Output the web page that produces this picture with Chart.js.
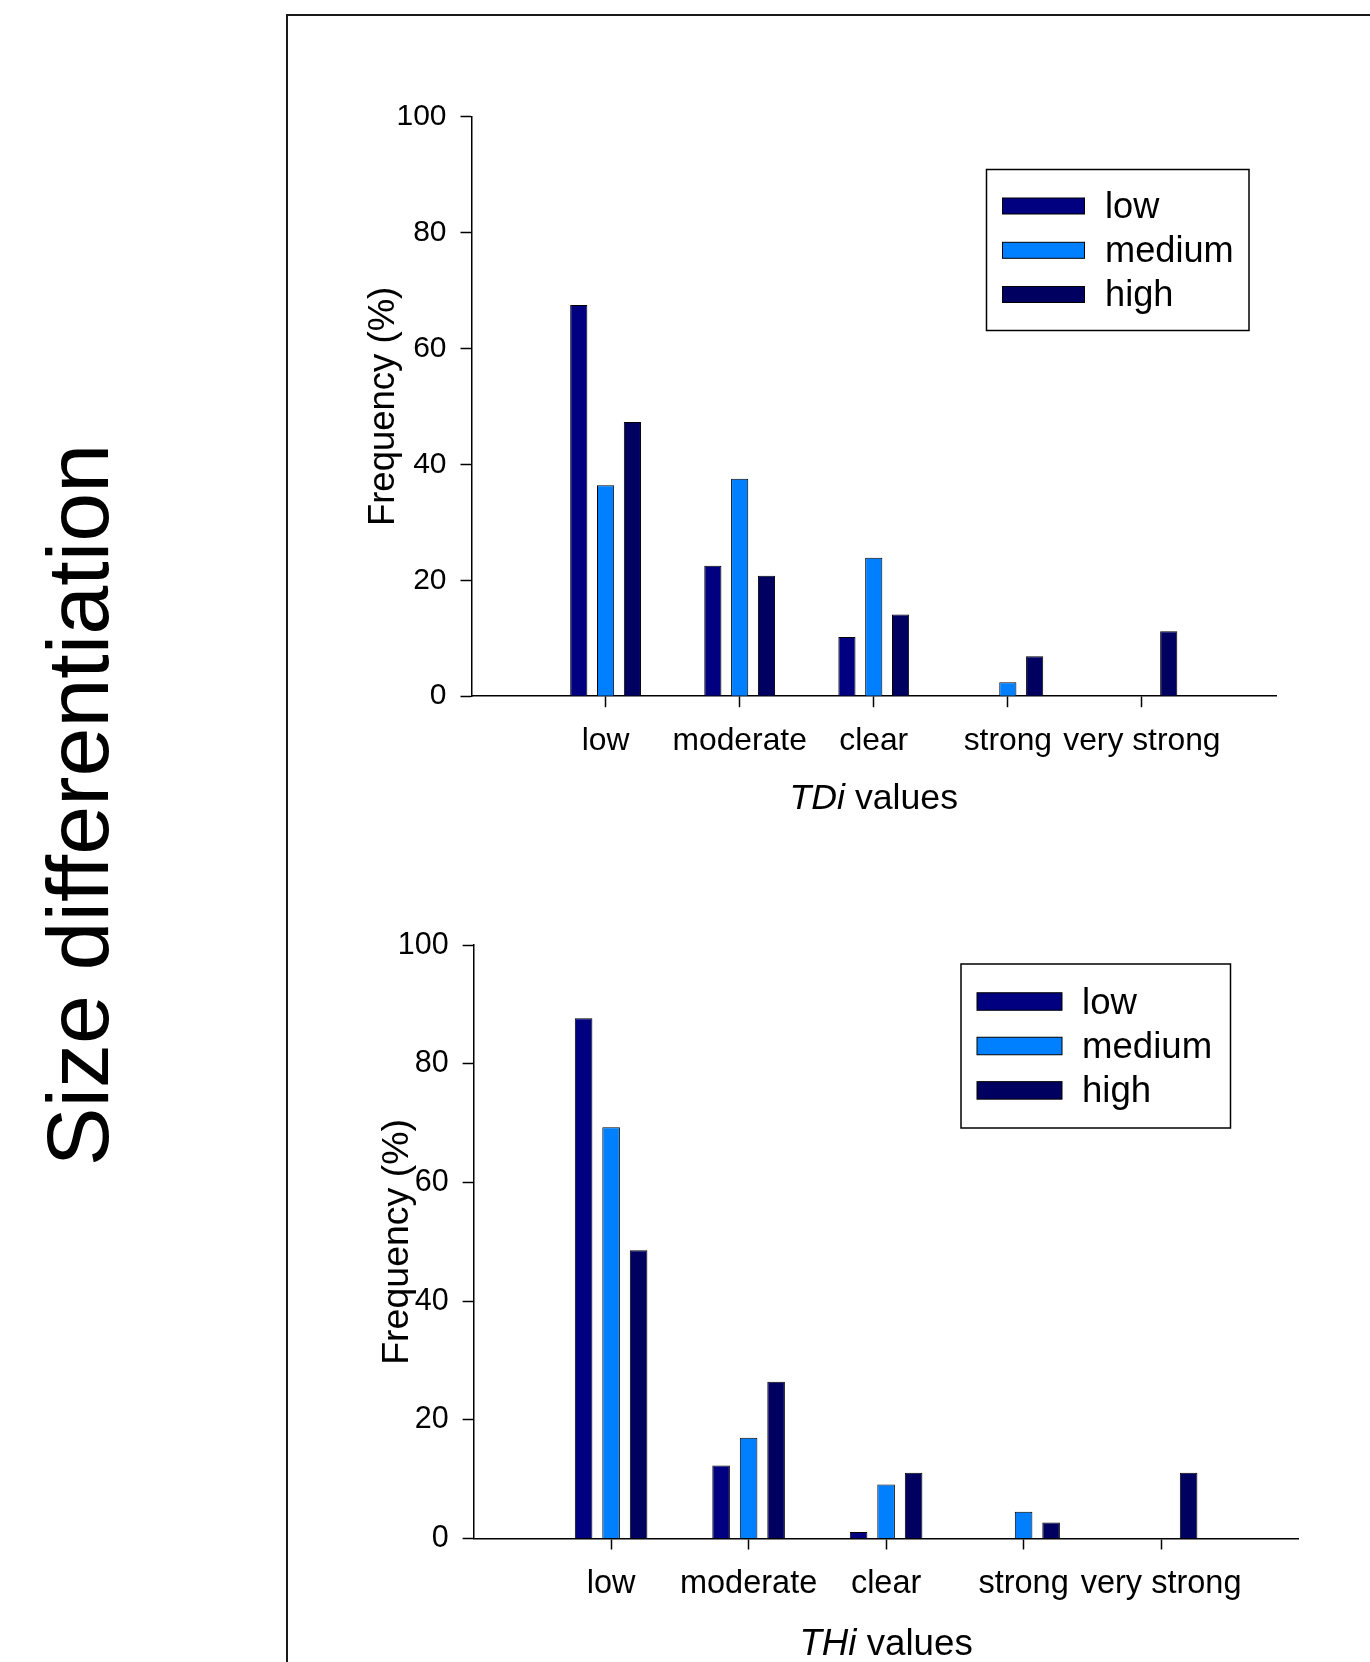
<!DOCTYPE html>
<html>
<head>
<meta charset="utf-8">
<script src="https://cdn.jsdelivr.net/npm/chart.js@4.4.0/dist/chart.umd.min.js"></script>
<style>
  body { margin: 0; background: #fff; width: 1370px; height: 1662px; position: relative; overflow: hidden;
         font-family: "Liberation Sans", Arial, sans-serif; }
  #frame { position: absolute; left: 286px; top: 14px; width: 1200px; height: 1700px;
           border-left: 2px solid #1a1a1a; border-top: 2px solid #1a1a1a; }
  #side { position: absolute; left: 78px; top: 805px; transform: translate(-50%, -50%) rotate(-90deg);
          font-size: 88px; white-space: nowrap; color: #000; }
  canvas { position: absolute; }
</style>
</head>
<body>
<div id="frame"></div>
<div id="side">Size differentiation</div>
<canvas id="tdi" width="1040" height="780" style="left:300px;top:60px"></canvas>
<canvas id="thi" width="1060" height="782" style="left:300px;top:880px"></canvas>
<script>
const categories = ['low', 'moderate', 'clear', 'strong', 'very strong'];
const seriesNames = ['low', 'medium', 'high'];
const seriesColors = ['#000080', '#0080ff', '#000060'];
const yTicks = [0, 20, 40, 60, 80, 100];

// TDi panel
const tdiLow = [67.5, 22.5, 10.2, null, null];
const tdiMedium = [36.4, 37.5, 23.9, 2.4, null];
const tdiHigh = [47.3, 20.8, 14.1, 6.9, 11.2];

// THi panel
const thiLow = [87.7, 12.3, 1.1, null, null];
const thiMedium = [69.3, 17.0, 9.1, 4.5, null];
const thiHigh = [48.6, 26.4, 11.1, 2.7, 11.1];

const FONT = '"Liberation Sans", Arial, sans-serif';
Chart.defaults.font.family = FONT;
Chart.defaults.color = '#000';

// empty slot each side so the ticks sit at 1..5 of a 0..6 axis
const pad = arr => [null, ...arr, null];
const axisLabels = ['', ...categories, ''];

function boxLegend(cfg) {
  return {
    id: 'boxLegend',
    afterDraw(chart) {
      const ctx = chart.ctx;
      ctx.save();
      ctx.lineWidth = 1.5;
      ctx.strokeStyle = '#000';
      ctx.strokeRect(cfg.x, cfg.y, cfg.w, cfg.h);
      ctx.font = cfg.size + 'px ' + FONT;
      ctx.textBaseline = 'middle';
      chart.data.datasets.forEach((ds, i) => {
        const cy = cfg.y + cfg.rows[i];
        ctx.fillStyle = ds.backgroundColor;
        ctx.fillRect(cfg.x + cfg.swX, cy - cfg.swH / 2, cfg.swW, cfg.swH);
        ctx.lineWidth = 1;
        ctx.strokeRect(cfg.x + cfg.swX, cy - cfg.swH / 2, cfg.swW, cfg.swH);
        ctx.fillStyle = '#000';
        ctx.fillText(ds.label, cfg.x + cfg.textX, cy + 2);
      });
      ctx.restore();
    }
  };
}

function xTitle(cfg) {
  return {
    id: 'xTitle',
    afterDraw(chart) {
      const ctx = chart.ctx, a = chart.chartArea;
      const fi = 'italic ' + cfg.size + 'px ' + FONT, fn = cfg.size + 'px ' + FONT;
      ctx.save();
      ctx.fillStyle = '#000';
      ctx.textBaseline = 'middle';
      ctx.textAlign = 'left';
      ctx.font = fi; const w1 = ctx.measureText(cfg.italic).width;
      ctx.font = fn; const w2 = ctx.measureText(cfg.rest).width;
      const x = (a.left + a.right) / 2 - (w1 + w2) / 2, y = a.bottom + cfg.offset;
      ctx.font = fi; ctx.fillText(cfg.italic, x, y);
      ctx.font = fn; ctx.fillText(cfg.rest, x + w1, y);
      ctx.restore();
    }
  };
}

function makeChart(id, low, medium, high, lay) {
  const series = [low, medium, high];
  return new Chart(document.getElementById(id), {
    type: 'bar',
    data: {
      labels: axisLabels,
      datasets: series.map((d, i) => ({
        label: seriesNames[i],
        data: pad(d),
        backgroundColor: seriesColors[i],
        borderColor: '#000',
        borderWidth: 1,
        categoryPercentage: 0.6,
        barPercentage: 0.64
      }))
    },
    options: {
      responsive: false,
      animation: false,
      devicePixelRatio: 1,
      layout: { padding: { top: lay.top, right: lay.right, left: 0, bottom: 0 } },
      plugins: { legend: { display: false }, tooltip: { enabled: false } },
      scales: {
        x: {
          offset: false,
          grid: {
            offset: false, drawOnChartArea: false, tickLength: 11, tickWidth: 1.5,
            tickColor: c => (c.index === 0 || c.index === axisLabels.length - 1) ? 'rgba(0,0,0,0)' : '#000'
          },
          border: { color: '#000', width: 1.5 },
          ticks: { autoSkip: false, maxRotation: 0, minRotation: 0, padding: 15,
                   font: { size: lay.xFont }, color: '#000' },
          afterFit: s => { s.height = lay.xH; }
        },
        y: {
          min: 0, max: 100,
          afterBuildTicks: s => { s.ticks = yTicks.map(v => ({ value: v })); },
          grid: { drawOnChartArea: false, tickLength: 11, tickWidth: 1.5, tickColor: '#000' },
          border: { color: '#000', width: 1.5 },
          ticks: { padding: 14, font: { size: lay.yFont }, color: '#000' },
          title: { display: true, text: 'Frequency (%)', color: '#000',
                   font: { size: lay.titleFont }, padding: { top: lay.titlePad, bottom: 0 } },
          afterFit: s => { s.width = lay.yW; }
        }
      }
    },
    plugins: [boxLegend(lay.legend), xTitle(lay.xTitle)]
  });
}

makeChart('tdi', tdiLow, tdiMedium, tdiHigh, {
  top: 56.6, right: 64, xH: 143.8, yW: 171.5,
  xFont: 31.8, yFont: 30, titleFont: 36.5, titlePad: 62,
  legend: { x: 686.5, y: 109.5, w: 262.5, h: 161, rows: [36.5, 80.8, 125],
            swX: 16, swW: 82, swH: 16, textX: 118.5, size: 36.2 },
  xTitle: { italic: 'TDi', rest: ' values', size: 35.7, offset: 103 }
});

makeChart('thi', thiLow, thiMedium, thiHigh, {
  top: 65.2, right: 61.4, xH: 123.5, yW: 173.6,
  xFont: 32.5, yFont: 30.5, titleFont: 37.5, titlePad: 75,
  legend: { x: 661, y: 84, w: 269.5, h: 164, rows: [37.5, 82, 126.4],
            swX: 16, swW: 85, swH: 17.5, textX: 121, size: 36.6 },
  xTitle: { italic: 'THi', rest: ' values', size: 36.7, offset: 106 }
});
</script>
</body>
</html>
